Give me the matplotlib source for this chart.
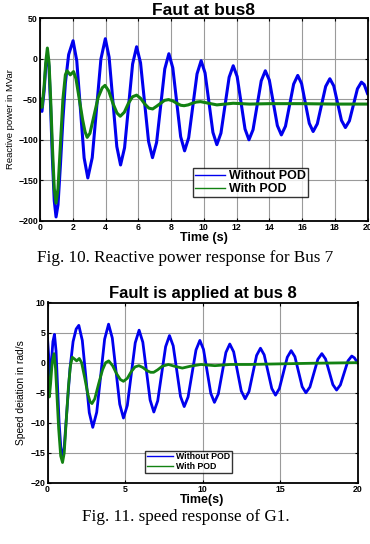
import matplotlib
matplotlib.use("Agg")
import matplotlib.pyplot as plt
from matplotlib.ticker import MultipleLocator

# ---------------- data: top chart (reactive power, MVar) ----------------
t_q_blue = [0.0, 0.12, 0.25, 0.35, 0.45, 0.55, 0.65, 0.75, 0.87, 0.98, 1.1, 1.25, 1.4, 1.55, 1.75, 2.02,
            2.245, 2.47, 2.695, 2.92, 3.19, 3.455, 3.72, 3.99, 4.22, 4.455, 4.69, 4.92,
            5.165, 5.41, 5.655, 5.9, 6.14, 6.385, 6.63, 6.87, 7.12, 7.37, 7.62, 7.87,
            8.11, 8.35, 8.59, 8.83, 9.08, 9.335, 9.59, 9.84, 10.08, 10.32, 10.56, 10.8,
            11.05, 11.3, 11.55, 11.8, 12.04, 12.28, 12.52, 12.76, 13.01, 13.26, 13.51, 13.76,
            14.005, 14.25, 14.495, 14.74, 14.99, 15.24, 15.49, 15.74, 15.975, 16.21, 16.445, 16.68,
            16.935, 17.19, 17.445, 17.7, 17.94, 18.175, 18.41, 18.65, 18.895, 19.14, 19.385, 19.63,
            19.8, 20.0]
q_blue = [-50, -65, -40, -10, 4, -10, -60, -120, -175, -195, -180, -130, -75, -30, 5, 22,
          -2.7, -62.5, -122.3, -147, -122, -61.3, -0.5, 24.5, 1.8, -53.3, -108.3, -131,
          -109.7, -58.2, -6.7, 14.6, -5.3, -53.7, -102.1, -122, -103.3, -58, -12.7, 6,
          -11.5, -53.8, -96.1, -113.6, -97.4, -58.1, -18.8, -2.6, -17.7, -54.3, -90.9, -106,
          -91.8, -57.4, -23, -8.8, -22.1, -54.4, -86.7, -100, -87.6, -57.5, -27.4, -15,
          -26.5, -54.5, -82.5, -94, -83.3, -57.4, -31.4, -20.7, -30.8, -55.3, -79.7, -89.8,
          -80.3, -57.3, -34.3, -24.8, -33.6, -54.9, -76.1, -84.9, -76.7, -57, -37.2, -29,
          -32, -43]

t_q_green = [0.0, 0.12, 0.25, 0.35, 0.45, 0.55, 0.65, 0.75, 0.87, 0.98, 1.1, 1.25, 1.4, 1.55, 1.65,
             1.85, 2.05, 2.2, 2.4, 2.6, 2.75, 2.88, 3.05, 3.3, 3.55, 3.8, 3.97, 4.2, 4.45, 4.7, 4.9,
             5.15, 5.4, 5.65, 5.9, 6.15, 6.4, 6.65, 6.88, 7.1, 7.37, 7.6, 7.85, 8.1, 8.35, 8.6, 8.8,
             9.05, 9.3, 9.55, 9.8, 10.3, 10.8, 11.3, 11.8, 12.8, 14.0, 16.0, 18.0, 20.0]
q_green = [-50, -60, -35, -5, 13, -5, -50, -105, -160, -178, -160, -105, -50, -20, -15,
           -20, -16, -25, -50, -75, -90, -97, -92, -70, -48, -36, -33, -40, -55, -67, -71,
           -66, -55, -47, -45, -49, -56, -61, -62, -59, -55, -51.5, -50.5, -52, -55, -57.5, -58,
           -57, -55, -53.5, -53, -55, -57, -56, -55, -56, -55.5, -55.5, -56, -56]

# ---------------- data: bottom chart (speed deviation, rad/s) ----------------
t_w_blue = [0.0, 0.08, 0.15, 0.25, 0.35, 0.45, 0.55, 0.65, 0.75, 0.87, 0.97, 1.08, 1.25, 1.45, 1.65, 1.85, 2.02,
            2.245, 2.47, 2.695, 2.92, 3.175, 3.43, 3.685, 3.94, 4.18, 4.42, 4.66, 4.9,
            5.15, 5.405, 5.66, 5.91, 6.15, 6.385, 6.62, 6.86, 7.11, 7.365, 7.62, 7.87,
            8.11, 8.345, 8.58, 8.82, 9.07, 9.325, 9.58, 9.83, 10.065, 10.3, 10.535, 10.77,
            11.02, 11.265, 11.51, 11.76, 12.01, 12.255, 12.5, 12.75, 13.0, 13.245, 13.49, 13.74,
            13.98, 14.225, 14.47, 14.71, 14.96, 15.215, 15.47, 15.72, 15.96, 16.195, 16.43, 16.67,
            16.93, 17.185, 17.44, 17.7, 17.94, 18.175, 18.41, 18.65, 18.895, 19.14, 19.385, 19.63,
            19.8, 20.0]
w_blue = [4, 1, -2.7, 0, 3.5, 4.7, 2, -4, -10, -14.5, -15.5, -14, -8, -1, 3.5, 5.6, 6.2,
          3.7, -2.3, -8.3, -10.75, -8.25, -2.2, 3.9, 6.4, 4.1, -1.4, -6.9, -9.2,
          -7.1, -1.9, 3.3, 5.4, 3.4, -1.4, -6.2, -8.2, -6.35, -1.85, 2.65, 4.5,
          2.8, -1.4, -5.6, -7.3, -5.7, -1.8, 2.1, 3.7, 2.2, -1.45, -5.1, -6.6,
          -5.2, -1.75, 1.7, 3.1, 1.8, -1.45, -4.7, -6.0, -4.8, -1.8, 1.2, 2.4,
          1.3, -1.5, -4.3, -5.4, -4.3, -1.7, 0.9, 2.0, 1.0, -1.5, -4.0, -5.0,
          -4.05, -1.75, 0.55, 1.5, 0.6, -1.5, -3.65, -4.55, -3.7, -1.7, 0.3, 1.1,
          0.8, 0.0]

t_w_green = [0.0, 0.06, 0.12, 0.2, 0.3, 0.42, 0.52, 0.62, 0.72, 0.85, 0.97, 1.08, 1.2, 1.35, 1.48, 1.6,
             1.75, 1.88, 2.05, 2.2, 2.4, 2.6, 2.75, 2.87, 3.05, 3.3, 3.55, 3.75, 3.95, 4.2, 4.45, 4.7,
             4.9, 5.15, 5.4, 5.65, 5.9, 6.15, 6.4, 6.65, 6.85, 7.1, 7.4, 7.8, 8.2, 8.7, 9.2, 9.9,
             10.8, 11.8, 13.0, 15.0, 17.0, 20.0]
w_green = [1, -3, -5.7, -3.5, 0, 1.5, -1, -6, -11, -15.5, -16.6, -15, -10, -4, -0.5, 0.9,
           0.6, 0.3, 0.7, 0, -2.5, -5.2, -6.5, -6.8, -6, -3.5, -1.2, 0, 0.3, -0.5, -1.8, -2.8,
           -3.1, -2.6, -1.5, -0.7, -0.5, -0.8, -1.3, -1.6, -1.6, -1.2, -0.6, -0.3, -0.6, -0.9, -0.6, -0.3,
           -0.5, -0.3, -0.3, -0.2, -0.1, 0.0]

series_labels = ["Without POD", "With POD"]
top_title = "Faut at bus8"
bottom_title = "Fault is applied at bus 8"
caption_top = "Fig. 10. Reactive power response for Bus 7"
caption_bottom = "Fig. 11. speed response of G1."

BLUE = "#0000ee"
GREEN = "#128212"
SANS = ["Liberation Sans", "DejaVu Sans"]
SERIF = ["Liberation Serif", "DejaVu Serif"]

fig = plt.figure(figsize=(3.70, 5.44), dpi=100)
W, H = 370.0, 544.0


def style_axes(ax, tick_fs):
    ax.grid(True, color="#9a9a9a", linewidth=0.8, linestyle="-")
    ax.set_axisbelow(True)
    for s in ax.spines.values():
        s.set_linewidth(1.3)
        s.set_color("black")
    ax.tick_params(direction="in", length=2.5, width=0.8, top=True, right=True,
                   labelsize=tick_fs, pad=1.5)
    for lab in ax.get_xticklabels() + ax.get_yticklabels():
        lab.set_fontweight("bold")
        lab.set_family(SANS)


# ---------------- top axes ----------------
ax1 = fig.add_axes([40 / W, 1 - 221 / H, (367.5 - 40) / W, (221 - 18) / H])
ax1.plot(t_q_blue, q_blue, color=BLUE, linewidth=2.2, label=series_labels[0])
ax1.plot(t_q_green, q_green, color=GREEN, linewidth=2.2, label=series_labels[1])
ax1.set_xlim(0, 20)
ax1.set_ylim(-200, 50)
ax1.xaxis.set_major_locator(MultipleLocator(2))
ax1.yaxis.set_major_locator(MultipleLocator(50))
style_axes(ax1, 6.3)
ax1.set_title(top_title, fontsize=12.5, fontweight="bold", family=SANS, pad=2)
ax1.set_xlabel("Time (s)", fontsize=9, fontweight="bold", family=SANS, labelpad=0)
ax1.set_ylabel("Reactive power in MVar", fontsize=6.8, family=SANS, labelpad=2)
leg1 = ax1.legend(loc="lower left", bbox_to_anchor=((193 - 40) / (367.5 - 40), (221 - 197) / 203.0),
                  prop={"family": SANS, "weight": "bold", "size": 9}, frameon=True, fancybox=False,
                  borderpad=0.15, handlelength=2.4, handletextpad=0.3, labelspacing=0.1,
                  borderaxespad=0)
leg1.get_frame().set_edgecolor("black")
leg1.get_frame().set_linewidth(1.0)
for ln in leg1.get_lines():
    ln.set_linewidth(1.0)

# ---------------- bottom axes ----------------
ax2 = fig.add_axes([47.5 / W, 1 - 483 / H, (357.5 - 47.5) / W, (483 - 302.5) / H])
ax2.plot(t_w_blue, w_blue, color=BLUE, linewidth=2.0, label=series_labels[0])
ax2.plot(t_w_green, w_green, color=GREEN, linewidth=2.0, label=series_labels[1])
ax2.set_xlim(0, 20)
ax2.set_ylim(-20, 10)
ax2.xaxis.set_major_locator(MultipleLocator(5))
ax2.yaxis.set_major_locator(MultipleLocator(5))
style_axes(ax2, 6.3)
ax2.set_title(bottom_title, fontsize=12, fontweight="bold", family=SANS, pad=3)
ax2.set_xlabel("Time(s)", fontsize=9, fontweight="bold", family=SANS, labelpad=0)
ax2.set_ylabel("Speed deiation in rad/s", fontsize=7.4, family=SANS, labelpad=3)
leg2 = ax2.legend(loc="lower left", bbox_to_anchor=((145 - 47.5) / 310.0, (483 - 473) / 180.5),
                  prop={"family": SANS, "weight": "bold", "size": 6.3}, frameon=True, fancybox=False,
                  borderpad=0.2, handlelength=3.0, handletextpad=0.3, labelspacing=0.1,
                  borderaxespad=0)
leg2.get_frame().set_edgecolor("black")
leg2.get_frame().set_linewidth(1.0)
for ln in leg2.get_lines():
    ln.set_linewidth(1.0)

# ---------------- captions ----------------
fig.text(185 / W, 1 - 258 / H, caption_top, ha="center", va="center", fontsize=12.3, family=SERIF)
fig.text(186 / W, 1 - 517 / H, caption_bottom, ha="center", va="center", fontsize=12.3, family=SERIF)

fig.savefig("out.png", dpi=100)
